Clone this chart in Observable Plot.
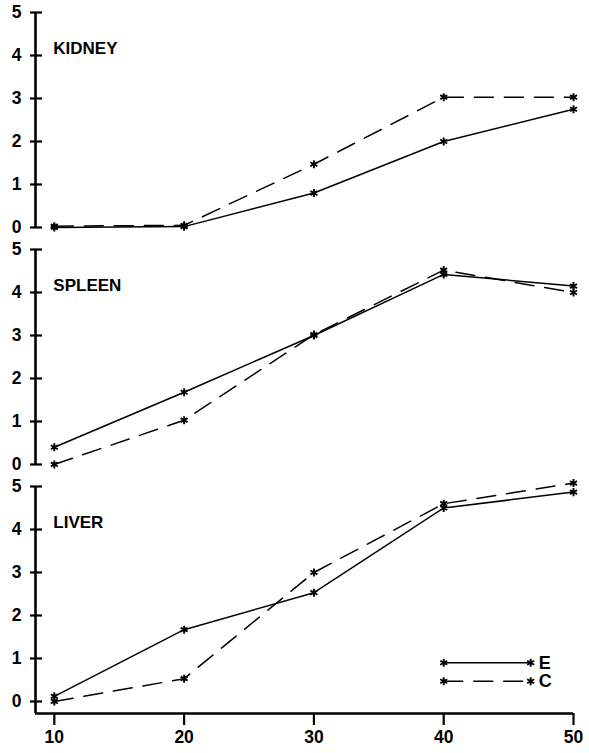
<!DOCTYPE html>
<html><head><meta charset="utf-8">
<script src="https://cdn.jsdelivr.net/npm/d3@7"></script>
<script src="https://cdn.jsdelivr.net/npm/@observablehq/plot@0.6"></script>
<style>
body{margin:0;background:#fff}
svg{display:block}
</style>
</head><body><div id="chart"></div>
<script>
// ---- data ----
const panels = ["KIDNEY", "SPLEEN", "LIVER"];
const days = [10, 20, 30, 40, 50];
const series = ["E", "C"];
const kidneyE = [0.00, 0.02, 0.80, 2.00, 2.75];
const kidneyC = [0.03, 0.05, 1.47, 3.03, 3.03];
const spleenE = [0.40, 1.68, 3.00, 4.42, 4.15];
const spleenC = [0.00, 1.03, 3.02, 4.52, 4.00];
const liverE  = [0.12, 1.67, 2.53, 4.50, 4.87];
const liverC  = [0.00, 0.53, 3.00, 4.60, 5.08];
const yTicks = [0, 1, 2, 3, 4, 5];
const xTicks = [10, 20, 30, 40, 50];

// ---- layout constants ----
const xMin = 8.55, xMax = 50;
const yMin = -0.28, yMax = 5;
const legendX1 = 40, legendX2 = 46.7;
const legendY = {E: 0.90, C: 0.47};
const FONT = "'Liberation Sans', Arial, Helvetica, sans-serif";

const values = {
  KIDNEY: {E: kidneyE, C: kidneyC},
  SPLEEN: {E: spleenE, C: spleenC},
  LIVER:  {E: liverE,  C: liverC}
};
const rows = panels.flatMap(p => series.flatMap(s =>
  days.map((d, i) => ({panel: p, series: s, day: d, value: values[p][s][i]}))));

const legendRows = series.flatMap(s => [legendX1, legendX2].map(x => ({panel: "LIVER", series: s, x, y: legendY[s]})));

const dash = {E: null, C: "19,11"};

const chart = Plot.plot({
  width: 589,
  height: 753,
  marginLeft: 35,
  marginRight: 16,
  marginTop: 11,
  marginBottom: 38,
  style: {fontFamily: FONT, fontSize: "17px", fontWeight: "bold", color: "#000", background: "#fff"},
  x: {domain: [xMin, xMax], label: null},
  y: {domain: [yMin, yMax], label: null},
  fy: {domain: panels, paddingInner: 0.042, paddingOuter: 0, axis: null, label: null},
  marks: [
    // y axis lines per panel
    Plot.ruleX(panels.map(p => ({panel: p})), {
      x: () => xMin, y1: d => d.panel === "LIVER" ? yMin : 0, y2: () => yMax,
      fy: "panel", stroke: "#000", strokeWidth: 2.6
    }),
    Plot.axisY({ticks: yTicks, tickFormat: d3.format("d"), tickSize: 12, dx: 7, tickPadding: 9,
      fontSize: 17.5, fontWeight: "bold", strokeWidth: 2.2, stroke: "#000", fill: "#000",
      label: null, facetAnchor: "left"}),
    // x axis line (bottom panel only)
    Plot.ruleY([{panel: "LIVER"}], {y: () => yMin, x1: () => xMin, x2: () => xMax, fy: "panel",
      stroke: "#000", strokeWidth: 2.6}),
    Plot.axisX({ticks: xTicks, tickFormat: d3.format("d"), tickSize: 12, tickPadding: 5,
      fontSize: 17.5, fontWeight: "bold", strokeWidth: 2.2, stroke: "#000", fill: "#000",
      label: null, facetAnchor: "bottom"}),
    // series lines
    ...series.map(s => Plot.line(rows.filter(r => r.series === s), {
      x: "day", y: "value", z: "panel", fy: "panel", stroke: "#000", strokeWidth: 1.5,
      strokeDasharray: dash[s]
    })),
    Plot.dot(rows, {x: "day", y: "value", fy: "panel", symbol: "asterisk", r: 3.8,
      stroke: "#000", strokeWidth: 1.9}),
    // panel labels
    Plot.text(panels, {text: d => d, x: () => 10, y: () => 4.15, fy: d => d, textAnchor: "start",
      dx: -1, fontSize: 17, fontWeight: "bold", fill: "#000"}),
    // legend
    ...series.map(s => Plot.line(legendRows.filter(r => r.series === s), {
      x: "x", y: "y", fy: "panel", stroke: "#000", strokeWidth: 1.5, strokeDasharray: dash[s]
    })),
    Plot.dot(legendRows, {x: "x", y: "y", fy: "panel", symbol: "asterisk", r: 3.8,
      stroke: "#000", strokeWidth: 1.9}),
    Plot.text(series, {text: d => d, x: () => legendX2, y: d => legendY[d], fy: () => "LIVER",
      textAnchor: "start", dx: 8, fontSize: 18, fontWeight: "bold", fill: "#000"})
  ]
});
document.getElementById("chart").appendChild(chart);
</script>
</body></html>
